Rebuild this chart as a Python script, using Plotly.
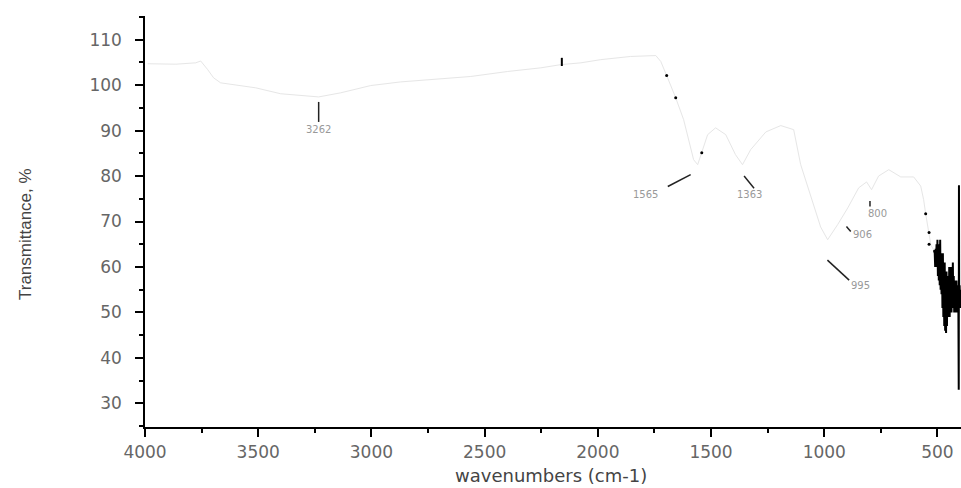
import plotly.graph_objects as go

# ---- spectrum (faint trace) ----
wn = [3988, 3864, 3776, 3754, 3723, 3697, 3666, 3600, 3511, 3401, 3312, 3233,
      3136, 3003, 2871, 2738, 2561, 2398, 2252, 2164, 2075, 1987, 1855, 1744,
      1722, 1696, 1656, 1621, 1599, 1577, 1559, 1541, 1515, 1480, 1435, 1392,
      1361, 1325, 1258, 1192, 1135, 1104, 1060, 1016, 985, 941, 896, 848, 813,
      791, 760, 715, 662, 605, 574, 561, 552, 538, 529, 516]
trans = [104.7, 104.6, 104.9, 105.3, 103.4, 101.6, 100.5, 100.1, 99.4, 98.1, 97.7, 97.4,
         98.3, 99.9, 100.7, 101.2, 101.9, 103.0, 103.8, 104.5, 104.9, 105.6, 106.3, 106.5,
         105.2, 102.1, 97.2, 92.4, 88.0, 83.6, 82.5, 85.1, 89.1, 90.6, 89.1, 84.7,
         82.5, 85.8, 89.7, 91.1, 90.2, 82.5, 75.4, 68.8, 66.0, 69.3, 73.0, 77.4, 78.7,
         77.0, 80.0, 81.4, 79.8, 79.8, 77.8, 74.8, 71.7, 67.5, 64.8, 63.7]

# ---- noisy low-wavenumber end (dark) ----
noise_wn = [516, 512, 510, 508, 506, 504, 502, 500, 498, 496, 494, 492, 490, 488, 486,
            484, 482, 480, 478, 476, 474, 472, 470, 468, 466, 464, 462, 460, 458, 456,
            454, 452, 450, 448, 446, 444, 442, 440, 438, 436, 434, 432, 430, 428, 426,
            424, 422, 420, 418, 416, 414, 412, 410, 408, 406, 405, 404, 402, 400, 398, 396]
noise_tr = [63.7, 63, 60, 64, 61, 65, 60, 66, 58, 65, 57, 64, 56, 66, 55,
            63, 54, 62, 51, 63, 49, 60, 47, 61, 46, 58, 45.5, 59, 47, 57,
            49, 58, 50, 60, 49, 58, 51, 60, 50, 59, 52, 61, 51, 58, 50,
            57, 52, 56, 50, 57, 51, 55, 50, 56, 33, 78, 52, 56, 51, 55, 53]

# ---- dark specks on the trace ----
speck_wn = [1696, 1656, 1541, 552, 537, 537]
speck_tr = [102.1, 97.2, 85.1, 71.7, 67.6, 65.0]
tick_wn = [2159, 2159]
tick_tr = [106.0, 104.2]

# ---- peak annotations: label, line start (wn, T), line end (wn, T), label pos (wn, T)
peak_labels = ["3262", "1565", "1363", "995", "906", "800"]
line_x0 = [3233, 1590, 1354, 986, 902, 798]
line_y0 = [96.3, 80.3, 80.0, 61.5, 68.9, 74.5]
line_x1 = [3233, 1691, 1310, 890, 883, 798]
line_y1 = [91.9, 77.7, 77.3, 57.1, 67.8, 73.3]
label_x = [3233, 1788, 1332, 839, 831, 765]
label_y = [90.2, 75.9, 75.9, 55.9, 67.2, 71.8]

# axis ticks
x_ticks = [4000, 3500, 3000, 2500, 2000, 1500, 1000, 500]
y_ticks = [30, 40, 50, 60, 70, 80, 90, 100, 110]

fig = go.Figure()
fig.add_trace(go.Scatter(x=wn, y=trans, mode="lines",
                         line=dict(color="#e6e6e6", width=1), hoverinfo="skip"))
fig.add_trace(go.Scatter(x=noise_wn, y=noise_tr, mode="lines",
                         line=dict(color="black", width=2), hoverinfo="skip"))
fig.add_trace(go.Scatter(x=speck_wn, y=speck_tr, mode="markers",
                         marker=dict(color="black", size=3), hoverinfo="skip"))
fig.add_trace(go.Scatter(x=tick_wn, y=tick_tr, mode="lines",
                         line=dict(color="black", width=2), hoverinfo="skip"))

for i, lab in enumerate(peak_labels):
    fig.add_shape(type="line", xref="x", yref="y",
                  x0=line_x0[i], y0=line_y0[i], x1=line_x1[i], y1=line_y1[i],
                  line=dict(color="#222", width=1.5))
    fig.add_annotation(x=label_x[i], y=label_y[i], xref="x", yref="y", text=lab,
                       showarrow=False, xanchor="center", yanchor="middle",
                       font=dict(family="DejaVu Sans", size=10, color="#999"))

# plot area (in figure px): x 145..961, y 16..427 ; figure 961 x 488
fig.add_annotation(text="Transmittance, %", xref="paper", yref="paper",
                   x=(25 - 145) / 816, y=(427 - 234) / 411, textangle=-90,
                   showarrow=False, xanchor="center", yanchor="middle",
                   font=dict(family="Liberation Sans", size=17, color="#444"))
fig.add_annotation(text="wavenumbers (cm-1)", xref="paper", yref="paper",
                   x=(551 - 145) / 816, y=(427 - 475) / 411, showarrow=False,
                   xanchor="center", yanchor="middle",
                   font=dict(family="DejaVu Sans", size=18, color="#444"))

axis_common = dict(showline=True, linecolor="black", linewidth=1.5, showgrid=False,
                   zeroline=False, ticks="outside", ticklen=8, tickwidth=1.5,
                   tickcolor="black", mirror=False,
                   tickfont=dict(family="DejaVu Sans", size=17, color="#666"))

fig.update_layout(
    width=961, height=488,
    margin=dict(l=145, r=0, t=16, b=61),
    paper_bgcolor="white", plot_bgcolor="white",
    showlegend=False,
    xaxis=dict(range=[4000, 396], tickvals=x_ticks,
               ticktext=[str(v) for v in x_ticks], ticklabelstandoff=1,
               minor=dict(dtick=250, tick0=0, ticks="outside", ticklen=4,
                          tickwidth=1.5, tickcolor="black", showgrid=False),
               **axis_common),
    yaxis=dict(range=[24.8, 115.2], tickvals=y_ticks,
               ticktext=[str(v) for v in y_ticks], ticklabelstandoff=10,
               minor=dict(dtick=5, tick0=0, ticks="outside", ticklen=4,
                          tickwidth=1.5, tickcolor="black", showgrid=False),
               **axis_common),
)

fig.write_html("out.html", config={"displayModeBar": False},
               post_script="document.body.style.margin='0';document.body.style.overflow='hidden';")
